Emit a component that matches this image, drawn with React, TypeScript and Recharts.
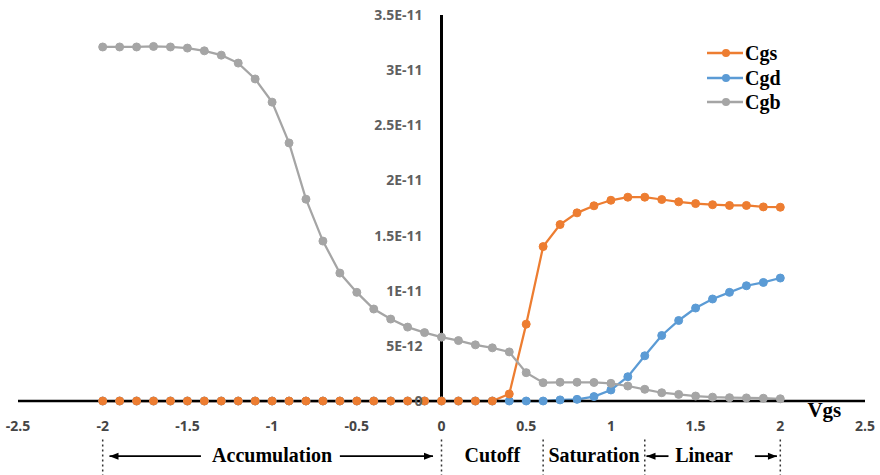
import React from 'react';
import { LineChart, Line, XAxis, YAxis, ReferenceLine, ReferenceDot, Legend } from 'recharts';

// ---- data ----
const VGS = [
  -2, -1.9, -1.8, -1.7, -1.6, -1.5, -1.4, -1.3, -1.2, -1.1,
  -1, -0.9, -0.8, -0.7, -0.6, -0.5, -0.4, -0.3, -0.2, -0.1,
  0, 0.1, 0.2, 0.3, 0.4, 0.5, 0.6, 0.7, 0.8, 0.9,
  1, 1.1, 1.2, 1.3, 1.4, 1.5, 1.6, 1.7, 1.8, 1.9, 2,
];
const CGS = [
  0, 0, 0, 0, 0, 0, 0, 0, 0, 0,
  0, 0, 0, 0, 0, 0, 0, 0, 0, 0,
  0, 0, 0, 0, 0.064e-11, 0.697e-11, 1.40e-11, 1.60e-11, 1.706e-11, 1.77e-11,
  1.82e-11, 1.848e-11, 1.848e-11, 1.827e-11, 1.806e-11, 1.79e-11, 1.78e-11, 1.773e-11, 1.773e-11, 1.76e-11, 1.757e-11,
];
const CGD = [
  0, 0, 0, 0, 0, 0, 0, 0, 0, 0,
  0, 0, 0, 0, 0, 0, 0, 0, 0, 0,
  0, 0, 0, 0, 0, 0, 0, 0.01e-11, 0.015e-11, 0.04e-11,
  0.10e-11, 0.22e-11, 0.41e-11, 0.594e-11, 0.73e-11, 0.843e-11, 0.925e-11, 0.985e-11, 1.045e-11, 1.075e-11, 1.115e-11,
];
const CGB = [
  3.21e-11, 3.21e-11, 3.21e-11, 3.215e-11, 3.21e-11, 3.20e-11, 3.175e-11, 3.136e-11, 3.064e-11, 2.92e-11,
  2.71e-11, 2.34e-11, 1.83e-11, 1.45e-11, 1.16e-11, 0.985e-11, 0.834e-11, 0.743e-11, 0.67e-11, 0.62e-11,
  0.579e-11, 0.548e-11, 0.509e-11, 0.482e-11, 0.445e-11, 0.257e-11, 0.166e-11, 0.17e-11, 0.17e-11, 0.168e-11,
  0.16e-11, 0.136e-11, 0.106e-11, 0.075e-11, 0.06e-11, 0.045e-11, 0.035e-11, 0.03e-11, 0.028e-11, 0.025e-11, 0.02e-11,
];

const X_TICKS = [-2.5, -2, -1.5, -1, -0.5, 0, 0.5, 1, 1.5, 2, 2.5];
const X_TICK_LABELS = ['-2.5', '-2', '-1.5', '-1', '-0.5', '0', '0.5', '1', '1.5', '2', '2.5'];
const Y_TICKS = [0, 5e-12, 1e-11, 1.5e-11, 2e-11, 2.5e-11, 3e-11, 3.5e-11];
const Y_TICK_LABELS = ['0', '5E-12', '1E-11', '1.5E-11', '2E-11', '2.5E-11', '3E-11', '3.5E-11'];

const REGION_BOUNDS = [-2, 0, 0.6, 1.2, 2];
const REGION_NAMES = ['Accumulation', 'Cutoff', 'Saturation', 'Linear'];
const REGION_CENTERS = [-1, 0.3, 0.9, 1.55];
// arrows: [tail, head]
const ARROWS = [
  [-1.42, -1.96],
  [-0.6, -0.05],
  [1.34, 1.21],
  [1.85, 1.98],
];
const AXIS_TITLE = 'Vgs';

const SERIES = [
  { key: 'Cgs', color: '#ED7D31' },
  { key: 'Cgd', color: '#5B9BD5' },
  { key: 'Cgb', color: '#A5A5A5' },
];
const DRAW_ORDER = ['Cgd', 'Cgs', 'Cgb'];

const DATA = VGS.map((v, i) => ({ vgs: v, Cgs: CGS[i], Cgd: CGD[i], Cgb: CGB[i] }));

// ---- layout ----
const W = 880;
const H = 475;
const MARGIN = { top: 15, right: 15, bottom: 44, left: 17 };
const Y_AXIS_W = 1;
const PLOT_LEFT = MARGIN.left + Y_AXIS_W;
const PLOT_W = W - PLOT_LEFT - MARGIN.right;
const ZERO_X = PLOT_LEFT + PLOT_W / 2;

const Y_DASH_TOP = -3.5e-12;
const Y_DASH_BOTTOM = -6.7e-12;
const Y_ARROW = -5.0e-12;
const Y_TEXT = -5.55e-12;
const Y_TITLE = -1.45e-12;
const X_TITLE = 2.26;

const SANS = '"Open Sans", sans-serif';
const SERIF = '"Liberation Serif", "Times New Roman", serif';

const XTick = (props: any) => {
  const { x, y, payload } = props;
  const idx = X_TICKS.indexOf(payload.value);
  return (
    <text x={x} y={y + 30} textAnchor="middle" fontFamily={SANS} fontSize={14} fontWeight={700} fill="#454545">
      {idx >= 0 ? X_TICK_LABELS[idx] : payload.value}
    </text>
  );
};

const YTick = (props: any) => {
  const { y, payload } = props;
  const idx = Y_TICKS.indexOf(payload.value);
  return (
    <text x={ZERO_X - 19} y={y + 5} textAnchor="end" fontFamily={SANS} fontSize={14} fontWeight={700} fill="#5f5f5f">
      {idx >= 0 ? Y_TICK_LABELS[idx] : payload.value}
    </text>
  );
};

const LegendContent = () => (
  <div style={{ display: 'flex', flexDirection: 'column' }}>
    {SERIES.map((s) => (
      <div key={s.key} style={{ display: 'flex', alignItems: 'center', height: 24.5 }}>
        <svg width={36} height={12} style={{ display: 'block' }}>
          <line x1={0} y1={6} x2={36} y2={6} stroke={s.color} strokeWidth={2.5} />
          <circle cx={19} cy={6} r={4} fill={s.color} />
        </svg>
        <span
          style={{
            fontFamily: SERIF,
            fontWeight: 'bold',
            fontSize: 20,
            marginLeft: 2,
            color: '#000',
            lineHeight: '20px',
          }}
        >
          {s.key}
        </span>
      </div>
    ))}
  </div>
);

const textShape = (label: string, size: number) => (p: any) => (
  <text
    x={p.cx}
    y={p.cy}
    textAnchor="middle"
    fontFamily={SERIF}
    fontWeight="bold"
    fontSize={size}
    fill="#000"
  >
    {label}
  </text>
);

const headShape = (dir: number) => (p: any) => {
  const { cx, cy } = p;
  const d = `M${cx},${cy} L${cx - dir * 9},${cy - 3.5} L${cx - dir * 9},${cy + 3.5} Z`;
  return <path d={d} fill="#000" />;
};

export default function App() {
  return (
    <div style={{ position: 'absolute', left: 0, top: 0, width: W, height: H, background: '#fff' }}>
      <LineChart width={W} height={H} data={DATA} margin={MARGIN}>
        <XAxis
          dataKey="vgs"
          type="number"
          domain={[-2.5, 2.5]}
          ticks={X_TICKS}
          interval={0}
          height={30}
          axisLine={{ stroke: '#000', strokeWidth: 2.5 }}
          tickLine={false}
          tickSize={0}
          tickMargin={0}
          tick={<XTick />}
        />
        <YAxis
          type="number"
          domain={[0, 3.5e-11]}
          ticks={Y_TICKS}
          interval={0}
          width={Y_AXIS_W}
          axisLine={false}
          tickLine={false}
          tick={<YTick />}
        />
        <ReferenceLine x={0} stroke="#000" strokeWidth={3} />
        {REGION_BOUNDS.map((b) => (
          <ReferenceLine
            key={'b' + b}
            segment={[
              { x: b, y: Y_DASH_TOP },
              { x: b, y: Y_DASH_BOTTOM },
            ]}
            stroke="#333"
            strokeWidth={1.5}
            strokeDasharray="2 3"
            ifOverflow="visible"
          />
        ))}
        {ARROWS.map(([a, b], i) => (
          <ReferenceLine
            key={'a' + i}
            segment={[
              { x: a, y: Y_ARROW },
              { x: b, y: Y_ARROW },
            ]}
            stroke="#000"
            strokeWidth={1.8}
            ifOverflow="visible"
          />
        ))}
        {ARROWS.map(([a, b], i) => (
          <ReferenceDot
            key={'h' + i}
            x={b}
            y={Y_ARROW}
            r={0}
            ifOverflow="visible"
            shape={headShape(b > a ? 1 : -1)}
          />
        ))}
        {REGION_NAMES.map((n, i) => (
          <ReferenceDot
            key={'t' + n}
            x={REGION_CENTERS[i]}
            y={Y_TEXT}
            r={0}
            ifOverflow="visible"
            shape={textShape(n, 20)}
          />
        ))}
        <ReferenceDot x={X_TITLE} y={Y_TITLE} r={0} ifOverflow="visible" shape={textShape(AXIS_TITLE, 21)} />
        {DRAW_ORDER.map((k) => {
          const s = SERIES.find((q) => q.key === k)!;
          return (
            <Line
              key={k}
              type="linear"
              dataKey={k}
              stroke={s.color}
              strokeWidth={2.25}
              dot={{ r: 4, fill: s.color, stroke: s.color, strokeWidth: 1 }}
              activeDot={false}
              isAnimationActive={false}
            />
          );
        })}
        <Legend
          layout="vertical"
          align="center"
          verticalAlign="middle"
          content={<LegendContent />}
          wrapperStyle={{ left: 707, top: 41, width: 'auto', height: 'auto' }}
        />
      </LineChart>
    </div>
  );
}
